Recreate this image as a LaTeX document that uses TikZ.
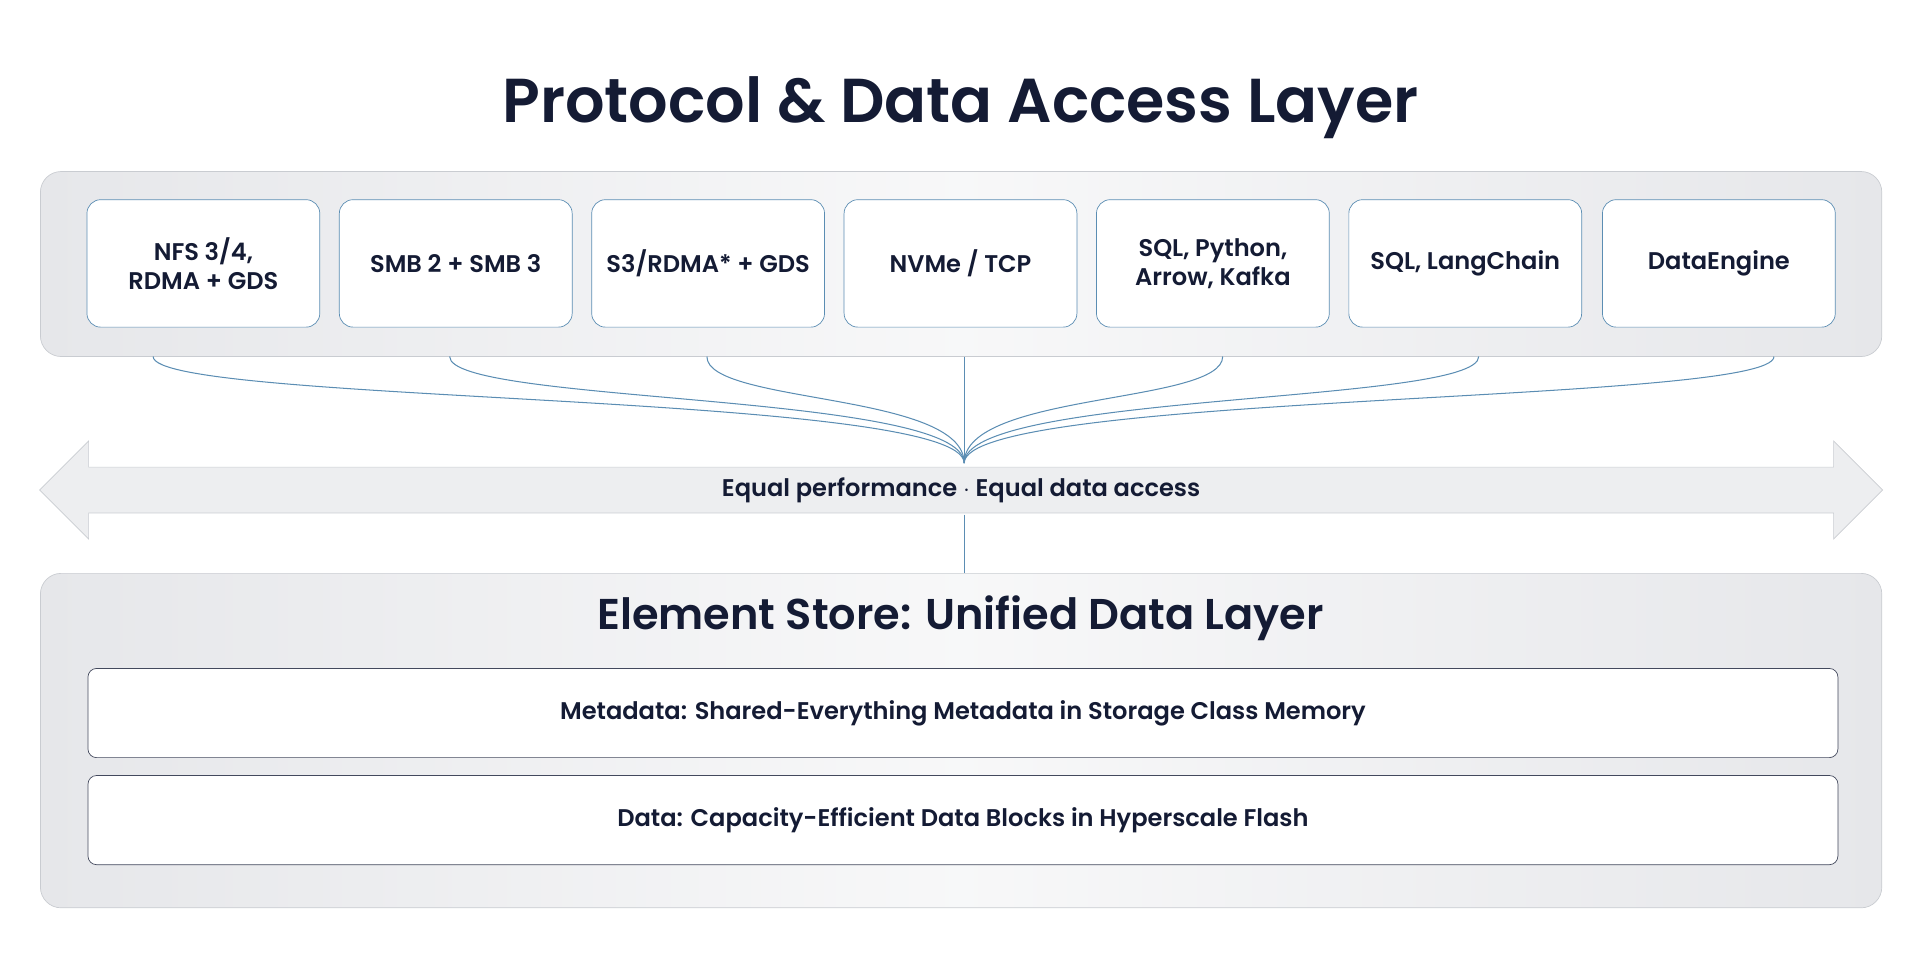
\documentclass[tikz,border=0pt]{standalone}
\usepackage{fontspec}
\setmainfont{Poppins}[BoldFont={Poppins SemiBold}]
\usetikzlibrary{positioning,shapes.arrows}
\definecolor{ink}{HTML}{141B34}
\definecolor{edge}{HTML}{C9CCD1}
\definecolor{wire}{HTML}{5B8DB3}
\definecolor{panel}{HTML}{E6E7EA}
\tikzset{
	panelbox/.style={draw=edge, rounded corners=12pt, left color=panel, right color=panel, middle color=white!70!panel},
	proto/.style={draw=wire, fill=white, rounded corners=8pt, minimum width=4.75cm, minimum height=2.6cm, align=center, text=ink, font=\fontsize{14}{17}\selectfont\bfseries},
	layer/.style={draw=ink!80, fill=white, rounded corners=5pt, minimum width=35.7cm, minimum height=1.82cm, text=ink, font=\fontsize{14}{17}\selectfont\bfseries},
	feed/.style={wire, line width=0.6pt}
}
\begin{document}
\begin{tikzpicture}[x=0.025cm, y=-0.025cm]
	\useasboundingbox (0,0) rectangle (1568,784);
	
	\node[text=ink, font=\fontsize{36}{42}\selectfont\bfseries] (title) at (784,88) {Protocol \& Data Access Layer};
	
	\path[panelbox] (33,140) rectangle (1536,291);
	
	% protocol boxes
	\foreach \name/\x/\txt in {nfs/166/{NFS 3/4,\\RDMA + GDS}, smb/372/{SMB 2 + SMB 3}, s3/578/{S3/RDMA* + GDS}, nvme/784/{NVMe / TCP}, sql/990/{SQL, Python,\\Arrow, Kafka}, lang/1196/{SQL, LangChain}, engine/1403/{DataEngine}}
		\node[proto] (\name) at (\x,215) {\txt};
	
	% the arrow
	\node[single arrow, double arrow, draw=edge, fill=panel!70!white, minimum width=2cm, single arrow head extend=0.5cm, double arrow head extend=0.5cm, minimum height=37.6cm, text=ink, font=\fontsize{14}{17}\selectfont\bfseries, inner sep=5pt] (equal) at (784.5,400) {Equal performance $\cdot$ Equal data access};
	\coordinate (hub) at (787,378);
	
	\foreach \x in {125,367,577,998,1207,1448}
		\draw[feed] (\x,291) .. controls (\x,330) and (787,320) .. (hub);
	\draw[feed] (787,291) -- (hub);
	
	\path[panelbox] (33,468) rectangle (1536,741);
	\draw[feed] (787,420) -- (787,468);
	
	\node[text=ink, font=\fontsize{25}{30}\selectfont\bfseries] (store) at (784,505) {Element Store: Unified Data Layer};
	\node[layer] (meta) at (786,582) {Metadata: Shared-Everything Metadata in Storage Class Memory};
	\node[layer, below=0.35cm of meta] (data) {Data: Capacity-Efficient Data Blocks in Hyperscale Flash};
\end{tikzpicture}
\end{document}
